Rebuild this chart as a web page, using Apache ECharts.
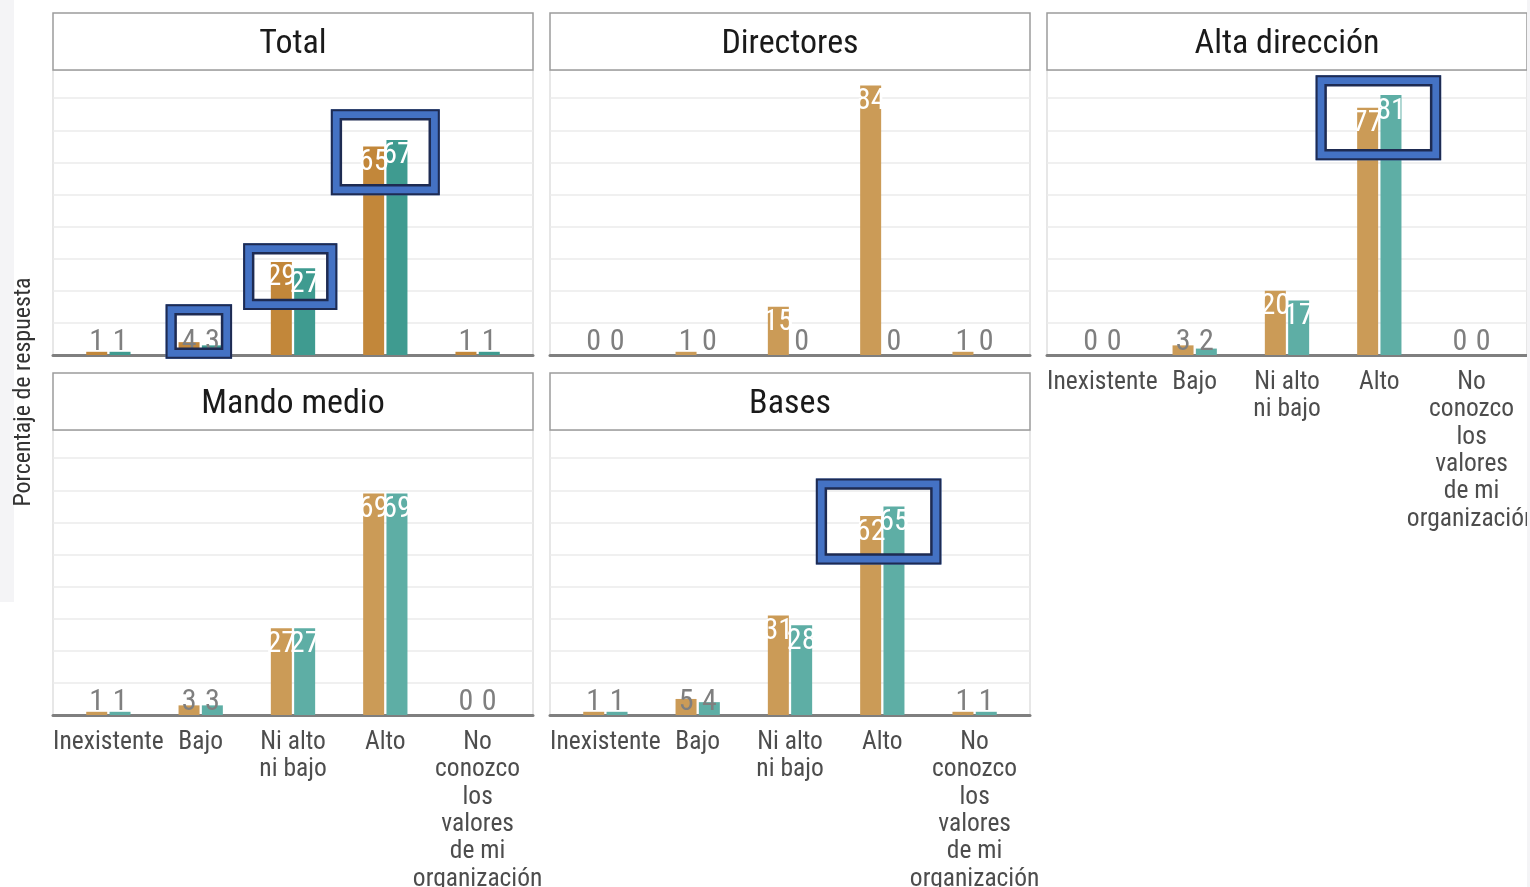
<!DOCTYPE html>
<html>
<head>
<meta charset="utf-8">
<script src="https://cdn.jsdelivr.net/npm/echarts@6/dist/echarts.min.js"></script>
<style>
html,body{margin:0;padding:0;background:#fff;}
#chart{width:1530px;height:887px;}
</style>
</head>
<body>
<div id="chart"></div>
<script>
// ---------- data ----------
const categories = ['Inexistente', 'Bajo', 'Ni alto\nni bajo', 'Alto', 'No\nconozco\nlos\nvalores\nde mi\norganización'];
const panels = ['Total', 'Directores', 'Alta dirección', 'Mando medio', 'Bases'];

const totalA = [1, 4, 29, 65, 1];
const totalB = [1, 3, 27, 67, 1];
const directoresA = [0, 1, 15, 84, 1];
const directoresB = [0, 0, 0, 0, 0];
const altaA = [0, 3, 20, 77, 0];
const altaB = [0, 2, 17, 81, 0];
const mandoA = [1, 3, 27, 69, 0];
const mandoB = [1, 3, 27, 69, 0];
const basesA = [1, 5, 31, 62, 1];
const basesB = [1, 4, 28, 65, 1];

const seriesA = [totalA, directoresA, altaA, mandoA, basesA];
const seriesB = [totalB, directoresB, altaB, mandoB, basesB];

// highlight annotations: panel, category index (0-based), value range, side extents (category units)
const highlightPanel = [0, 0, 0, 2, 4];
const highlightCat = [1, 2, 3, 3, 3];
const highlightLow = [-1.2, 14.0, 49.8, 60.7, 46.9];
const highlightHigh = [15.8, 34.8, 76.6, 87.2, 73.7];
const highlightLeft = [-0.38, -0.54, -0.59, -0.69, -0.72];
const highlightRight = [0.34, 0.48, 0.59, 0.67, 0.64];

// ---------- layout & style ----------
const COL_X = [53, 550, 1047];
const ROW_TOP = [13, 373];
const PANEL_W = 480, STRIP_H = 57, PLOT_H = 285;
const panelPos = [[0,0],[1,0],[2,0],[0,1],[1,1]];
const showXLabels = [false, false, true, true, true];
const colorsA = ['#C2873A', '#CB9B57', '#CB9B57', '#CB9B57', '#CB9B57'];
const colorsB = ['#3F9B90', '#5EAEA5', '#5EAEA5', '#5EAEA5', '#5EAEA5'];
const FONT = "'Liberation Sans Narrow', 'Roboto Condensed', Roboto, sans-serif";
const YMAX = 88.8;

const grids = [], xAxes = [], yAxes = [], series = [], graphics = [];

graphics.push({type:'rect', shape:{x:0,y:0,width:14,height:602}, style:{fill:'#F4F4F6'}, z:0});

panels.forEach((name, p) => {
  const [c, r] = panelPos[p];
  const x = COL_X[c], top = ROW_TOP[r];
  grids.push({left: x, top: top + STRIP_H, width: PANEL_W, height: PLOT_H,
    outerBoundsMode: 'none', containLabel: false,
    show: true, borderColor: '#CFCFCF', borderWidth: 1, backgroundColor: '#fff'});
  xAxes.push({
    type: 'value', gridIndex: p, min: 0.4, max: 5.6,
    axisLine: {show: true, onZero: false, lineStyle: {color: '#7F7F7F', width: 3}},
    axisTick: {show: false},
    splitLine: {show: false},
    axisLabel: {
      show: showXLabels[p], customValues: [1,2,3,4,5],
      formatter: v => categories[Math.round(v) - 1] || '',
      color: '#4D4D4D', fontFamily: FONT, fontSize: 25.5, lineHeight: 27.3, margin: 14,
      hideOverlap: false
    }
  });
  yAxes.push({
    type: 'value', gridIndex: p, min: 0, max: YMAX, interval: 10,
    axisLine: {show: false}, axisTick: {show: false}, axisLabel: {show: false},
    splitLine: {show: true, showMinLine: false, showMaxLine: false, lineStyle: {color: '#EBEBEB', width: 1.5}}
  });
  [seriesA[p], seriesB[p]].forEach((vals, s) => {
    series.push({
      type: 'bar', name: s === 0 ? 'A' : 'B', xAxisIndex: p, yAxisIndex: p,
      barWidth: 21, barGap: '11%',
      itemStyle: {color: s === 0 ? colorsA[p] : colorsB[p]},
      label: {show: true, fontFamily: FONT, fontSize: 30, formatter: d => d.value[1]},
      data: vals.map((v, i) => ({
        value: [i + 1, v],
        label: v >= 10 ? {position: 'insideTop', color: '#fff', distance: 1}
                       : {position: 'insideBottom', color: '#7F7F7F', distance: 1, offset: [0, 3]}
      }))
    });
  });
  graphics.push({type:'rect', shape:{x: x, y: top, width: PANEL_W, height: STRIP_H},
    style:{fill:'#fff', stroke:'#9C9C9C', lineWidth: 1.5}, z: 10});
  graphics.push({type:'text', x: x + PANEL_W/2, y: top + STRIP_H/2 + 3,
    style:{text: name, font: "34px " + FONT, fill: '#1A1A1A', align: 'center', verticalAlign: 'middle'}, z: 11});
});

graphics.push({type:'text', x: 24, y: 392, rotation: Math.PI/2,
  style:{text: 'Porcentaje de respuesta', font: "24px " + FONT, fill: '#333', align: 'center', verticalAlign: 'middle'}, z: 11});

const chart = echarts.init(document.getElementById('chart'), null, {renderer: 'canvas'});
chart.setOption({
  animation: false,
  backgroundColor: '#fff',
  grid: grids, xAxis: xAxes, yAxis: yAxes, series: series, graphic: graphics
});

const boxes = [];
highlightPanel.forEach((p, k) => {
  const c = highlightCat[k] + 1;
  const tl = chart.convertToPixel({gridIndex: p}, [c + highlightLeft[k], highlightHigh[k]]);
  const br = chart.convertToPixel({gridIndex: p}, [c + highlightRight[k], highlightLow[k]]);
  const X = tl[0], Y = tl[1], W = br[0] - tl[0], H = br[1] - tl[1];
  boxes.push({type:'rect', shape:{x: X + 5, y: Y + 5, width: W - 10, height: H - 10},
    style:{fill: null, stroke:'#4472C4', lineWidth: 10}, z: 20});
  boxes.push({type:'rect', shape:{x: X + 1, y: Y + 1, width: W - 2, height: H - 2},
    style:{fill: null, stroke:'#1E2B52', lineWidth: 2}, z: 21});
  boxes.push({type:'rect', shape:{x: X + 10, y: Y + 10, width: W - 20, height: H - 20},
    style:{fill: null, stroke:'#1E2B52', lineWidth: 2.5}, z: 21});
});
boxes.push({type:'rect', shape:{x:1527,y:0,width:3,height:887}, style:{fill:'#F4F4F6'}, z: 30});
chart.setOption({graphic: graphics.concat(boxes)});
</script>
</body>
</html>
